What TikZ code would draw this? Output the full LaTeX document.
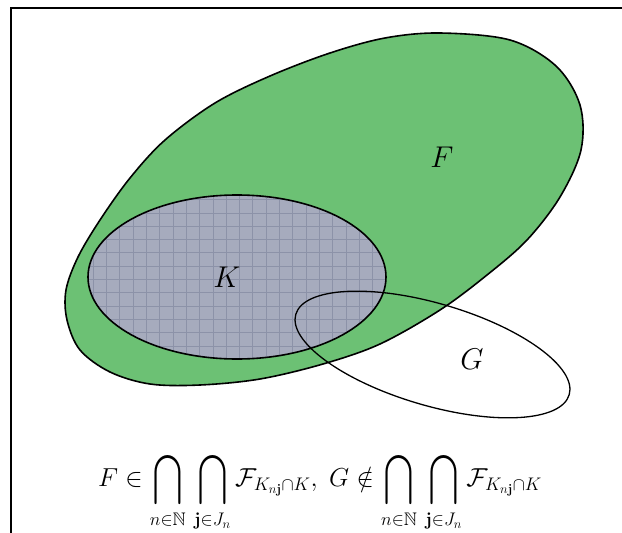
\RequirePackage{fix-cm}
\documentclass[tikz,border=0pt]{standalone}
\usepackage{amsmath,amssymb}
\usepackage{graphicx}
\usepackage{xcolor}
\usepackage{tikz}

\definecolor{setgreen}{RGB}{108,193,116}
\definecolor{setgrey}{RGB}{166,171,189}
\definecolor{gridgrey}{RGB}{140,146,168}
\newcommand{\tallcap}{\mathop{\vcenter{\hbox{\scalebox{1.0}[1.35]{$\displaystyle\bigcap$}}}}\limits}

\begin{document}
\begin{tikzpicture}[
  x=1pt, y=-1pt,
  every node/.style={inner sep=0pt, font=\fontsize{30}{36}\selectfont},
  setline/.style={draw=black, line width=1.6pt},
]
\useasboundingbox (0,0) rectangle (622,533);

  % Frame
  \draw[line width=2.8pt] (11,533) -- (11,8) -- (622,8);

  % Set F
  \path[setline, fill=setgreen] plot[smooth cycle, tension=0.55] coordinates {
    (440,33) (510,40) (556,66) (580,105) (581,150) (560,197) (527,240)
    (487,275) (440,310) (380,344) (323,364) (260,379) (200,385) (150,384)
    (110,372) (80,350) (67,320) (66,290) (78,257) (100,220) (130,178)
    (165,140) (215,103) (270,76) (330,53) (385,38)};

  % Set K with grid
  \fill[setgrey] (237,277) ellipse[x radius=149, y radius=82];
  \begin{scope}
    \clip (237,277) ellipse[x radius=149, y radius=82];
    \draw[gridgrey, line width=0.5pt, step=13.3pt] (70,180) grid (400,380);
  \end{scope}
  \draw[setline] (237,277) ellipse[x radius=149, y radius=82];

  % Set G
  \draw[setline, line width=1.3pt] (432.5,354.5) ellipse[x radius=142.5, y radius=51, rotate=-16.4];

  % Labels
  \node (labF) at (442,157) {$F$};
  \node (labK) at (227,277) {$K$};
  \node (labG) at (472,359) {$G$};

  % Formula
  \node[font=\fontsize{26}{31}\selectfont] (formula) at (320,492)
    {$\displaystyle F\in\tallcap_{n\in\mathbb{N}}\,\tallcap_{\mathbf{j}\in J_n}\mathcal{F}_{K_{n\mathbf{j}}\cap K},\;
      G\notin\tallcap_{n\in\mathbb{N}}\,\tallcap_{\mathbf{j}\in J_n}\mathcal{F}_{K_{n\mathbf{j}}\cap K}$};
\end{tikzpicture}
\end{document}
